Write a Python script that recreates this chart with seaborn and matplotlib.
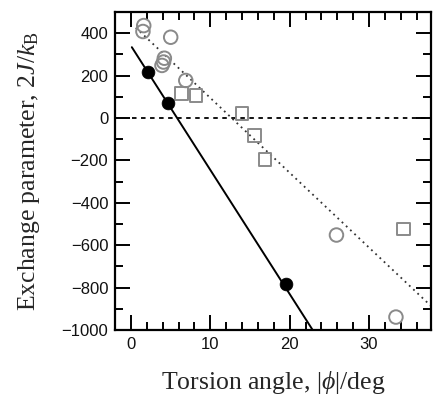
import matplotlib
matplotlib.use("Agg")
import matplotlib.pyplot as plt
import seaborn as sns
import numpy as np
import pandas as pd
from matplotlib.ticker import MultipleLocator

# Data
black_x = [2.2, 4.6, 19.5]
black_y = [216, 70, -783]

circle_x = [1.6, 1.5, 5.0, 4.2, 4.1, 3.9, 6.9, 25.9, 33.4]
circle_y = [436, 408, 381, 282, 264, 248, 177, -552, -939]

square_x = [6.4, 8.2, 14.0, 15.6, 16.9, 34.4]
square_y = [116, 108, 22, -81, -196, -524]

solid_x = [0.1, 22.9]
solid_y = [334, -1000]

dotted_x = [0.6, 37.8]
dotted_y = [426, -886]

zero_x = [0.1, 37.8]
zero_y = [0, 0]

sns.set_theme(style="ticks")
plt.rcParams['font.family'] = ['Liberation Sans', 'DejaVu Sans']
plt.rcParams['mathtext.fontset'] = 'custom'
plt.rcParams['mathtext.rm'] = 'Liberation Serif'
plt.rcParams['mathtext.it'] = 'Liberation Serif:italic'

fig = plt.figure(figsize=(4.33, 4.0), dpi=100)
ax = fig.add_axes([0.266, 0.175, 0.729, 0.795])

sns.lineplot(x=zero_x, y=zero_y, ax=ax, color='black', lw=1.3,
             linestyle=(0, (2.5, 2.5)), zorder=1)
sns.lineplot(x=dotted_x, y=dotted_y, ax=ax, color='#333333', lw=1.3,
             linestyle=(0, (1, 2.2)), zorder=1)
sns.lineplot(x=solid_x, y=solid_y, ax=ax, color='black', lw=1.4, zorder=2)

sns.scatterplot(x=circle_x, y=circle_y, ax=ax, marker='o', s=95,
                facecolor='none', edgecolor='#8a8a8a', linewidth=1.4, zorder=3)
sns.scatterplot(x=square_x, y=square_y, ax=ax, marker='s', s=85,
                facecolor='none', edgecolor='#8a8a8a', linewidth=1.4, zorder=3)
sns.scatterplot(x=black_x, y=black_y, ax=ax, marker='o', s=85,
                color='black', edgecolor='black', linewidth=0.5, zorder=4)

ax.set_xlim(-2, 37.8)
ax.set_ylim(-1000, 500)
ax.xaxis.set_major_locator(MultipleLocator(10))
ax.xaxis.set_minor_locator(MultipleLocator(2))
ax.yaxis.set_major_locator(MultipleLocator(200))
ax.yaxis.set_minor_locator(MultipleLocator(100))
ax.set_yticks([-1000, -800, -600, -400, -200, 0, 200, 400])
ax.set_yticklabels(['\u22121000', '\u2212800', '\u2212600', '\u2212400', '\u2212200', '0', '200', '400'])
ax.set_xticks([0, 10, 20, 30])
ax.set_xticklabels(['0', '10', '20', '30'])

ax.tick_params(which='both', direction='in', top=True, right=True,
               labelsize=12, color='black', labelcolor='#111111')
ax.tick_params(which='major', length=11, width=1.4, pad=5)
ax.tick_params(which='minor', length=5.5, width=1.4)
for s in ax.spines.values():
    s.set_linewidth(1.6)
    s.set_color('black')

ax.set_xlabel(r'Torsion angle, |$\phi$|/deg', fontsize=18.5, labelpad=12,
              family=['Liberation Serif', 'DejaVu Serif'])
ax.set_ylabel(r'Exchange parameter, 2$J$/$k_\mathrm{B}$', fontsize=18.5, labelpad=14,
              family=['Liberation Serif', 'DejaVu Serif'])

fig.savefig('out.png', dpi=100)
